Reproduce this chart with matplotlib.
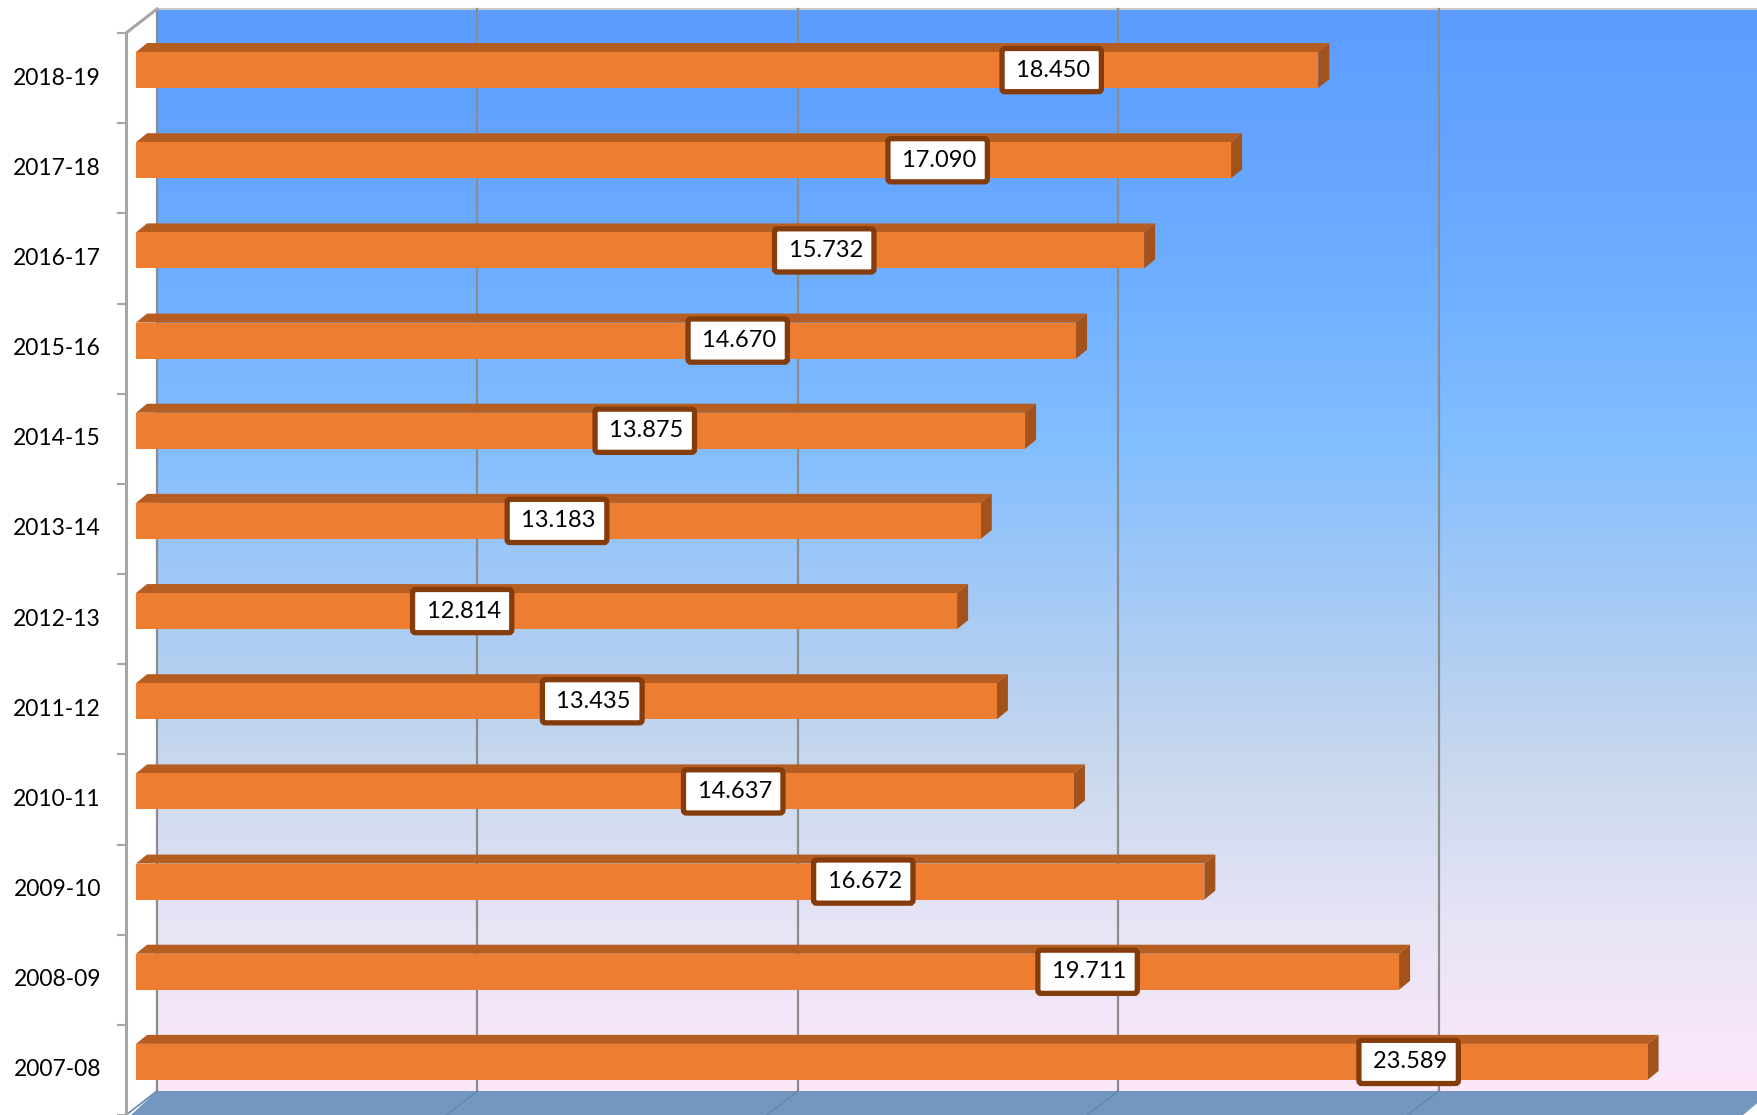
import numpy as np
import matplotlib
matplotlib.use("Agg")
import matplotlib.pyplot as plt
from matplotlib.patches import Polygon
from matplotlib.colors import LinearSegmentedColormap

# ---- data ----
categories = ["2007-08", "2008-09", "2009-10", "2010-11", "2011-12", "2012-13",
              "2013-14", "2014-15", "2015-16", "2016-17", "2017-18", "2018-19"]
values = [23.589, 19.711, 16.672, 14.637, 13.435, 12.814,
          13.183, 13.875, 14.670, 15.732, 17.090, 18.450]
value_labels = ["23.589", "19.711", "16.672", "14.637", "13.435", "12.814",
                "13.183", "13.875", "14.670", "15.732", "17.090", "18.450"]
label_pos = [19.86, 14.85, 11.35, 9.32, 7.12, 5.09,
             6.57, 7.94, 9.39, 10.74, 12.51, 14.29]
x_ticks = [0, 5, 10, 15, 20]

# ---- styling ----
W, H, DPI = 1758, 1115, 100
fig = plt.figure(figsize=(W / DPI, H / DPI), dpi=DPI)
fig.patch.set_facecolor("white")
ax = fig.add_axes([136 / W, 1 - 1107 / H, 1602 / W, 1082 / H])
ax.set_xlim(0, 25)
ax.set_ylim(-0.5, 11.5)
ax.axis("off")

pxx = 1602 / 25.0      # pixels per value unit
pxy = 1082 / 12.0      # pixels per category unit

def dx(p):
    return p / pxx

def dy(p):
    return p / pxy

back_off = (dx(21), dy(16))
front_off = (dx(-10), dy(-8))
bar_depth = (dx(11), dy(9))
bar_h = 0.40

ylo, yhi = -0.5, 11.5

# back wall gradient
stops = [(0.0, "#FDE8FA"), (0.15, "#E8E4F6"), (0.30, "#C9D8EE"),
         (0.45, "#A6CAF5"), (0.60, "#82BEFF"), (0.80, "#6AAAFF"), (1.0, "#5C9CFF")]
cmap = LinearSegmentedColormap.from_list("wall", stops)
grad = np.linspace(0, 1, 256).reshape(-1, 1)
wx0, wx1 = 0 + back_off[0], 25 + back_off[0] + 0.2
wy0, wy1 = ylo + back_off[1], yhi + back_off[1]
ax.imshow(grad, cmap=cmap, origin="lower", aspect="auto",
          extent=[wx0, wx1, wy0, wy1], zorder=0, clip_on=False)
ax.plot([wx0, wx1], [wy1, wy1], color="#C8C8C8", lw=1.5, zorder=1, clip_on=False)
ax.set_xlim(0, 25)
ax.set_ylim(-0.5, 11.5)

# floor
fy0 = ylo + front_off[1]
floor = Polygon([(wx0, wy0), (wx1, wy0), (wx1 - (back_off[0] - front_off[0]) * 1.1, fy0 - 0.05),
                 (front_off[0], fy0 - 0.05)], closed=True,
                facecolor="#7398BF", edgecolor="none", zorder=1, clip_on=False)
ax.add_patch(floor)

# gridlines on wall and floor
for t in x_ticks:
    gx = t + back_off[0]
    ax.plot([gx, gx], [wy0, wy1], color="#8C8C8C", lw=1.6, zorder=2, clip_on=False)
    ax.plot([gx, t + front_off[0]], [wy0, fy0], color="#6688AE", lw=1.2,
            zorder=2, clip_on=False)

# front axis line, ticks and connector
fx = front_off[0]
ax.plot([fx, fx], [fy0 - 0.05, yhi + front_off[1]], color="#A6A6A6", lw=2.2,
        zorder=3, clip_on=False)
ax.plot([fx, wx0], [yhi + front_off[1], wy1], color="#A6A6A6", lw=2.2,
        zorder=3, clip_on=False)
for k in range(len(categories) + 1):
    ty = k - 0.5 + front_off[1]
    ax.plot([fx - dx(8), fx], [ty, ty], color="#A6A6A6", lw=1.5, zorder=3,
            clip_on=False)

# category labels
for i, c in enumerate(categories):
    ax.text(dx(-35), i + front_off[1], c, ha="right", va="center",
            fontsize=16.5, family=["Lato", "DejaVu Sans"], color="black",
            clip_on=False)

# bars
ypos = np.arange(len(categories))
ax.barh(ypos, values, height=bar_h, left=0, color="#ED7D31",
        edgecolor="none", zorder=5)
for y, v in zip(ypos, values):
    top = y + bar_h / 2
    bot = y - bar_h / 2
    ax.add_patch(Polygon([(0, top), (v, top), (v + bar_depth[0], top + bar_depth[1]),
                          (bar_depth[0], top + bar_depth[1])], closed=True,
                         facecolor="#B65E22", edgecolor="none", zorder=4,
                         clip_on=False))
    ax.add_patch(Polygon([(v, bot), (v, top), (v + bar_depth[0], top + bar_depth[1]),
                          (v + bar_depth[0], bot + bar_depth[1])], closed=True,
                         facecolor="#A3521C", edgecolor="none", zorder=4,
                         clip_on=False))

# value labels
for y, lx, s in zip(ypos, label_pos, value_labels):
    ax.text(lx, y, "\u2009" + s, ha="center", va="center", fontsize=17,
            family=["Lato", "DejaVu Sans"], color="black", zorder=8,
            bbox=dict(boxstyle="round,pad=0.47,rounding_size=0.12",
                      facecolor="white", edgecolor="#843C0C", linewidth=3.8))

fig.savefig("out.png", dpi=DPI, facecolor="white")
